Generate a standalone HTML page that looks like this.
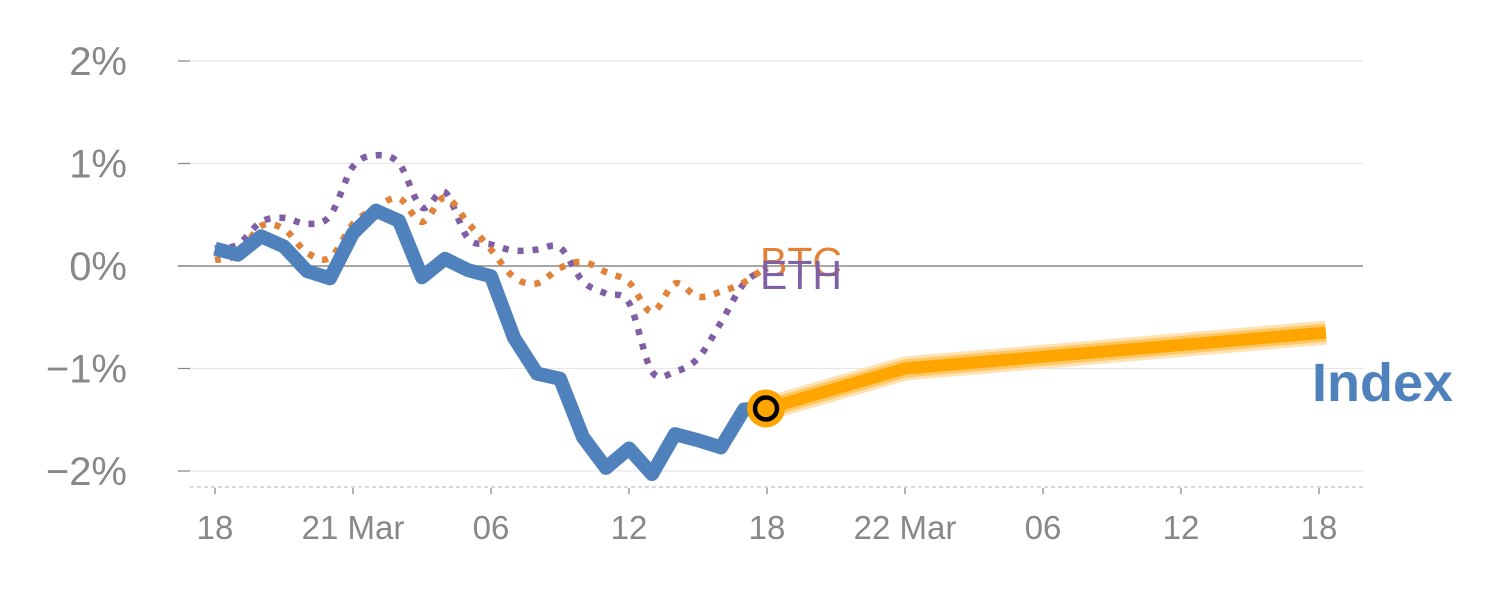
<!DOCTYPE html>
<html><head><meta charset="utf-8"><style>
html,body{margin:0;padding:0;background:#fff;}
svg{display:block;font-family:"Liberation Sans",sans-serif;}
</style></head><body>
<svg id="chart" width="1500" height="600" xmlns="http://www.w3.org/2000/svg"></svg>
<script>
const hours = [0,1,2,3,4,5,6,7,8,9,10,11,12,13,14,15,16,17,18,19,20,21,22,23,24];
const indexValues = [0.17,0.11,0.29,0.19,-0.05,-0.12,0.32,0.54,0.44,-0.11,0.07,-0.04,-0.10,-0.70,-1.05,-1.10,-1.67,-1.97,-1.78,-2.03,-1.64,-1.70,-1.77,-1.40,-1.39];
const btcValues = [0.06,0.11,0.39,0.36,0.13,0.08,0.41,0.57,0.66,0.43,0.67,0.42,0.16,-0.11,-0.17,-0.02,0.04,-0.06,-0.16,-0.45,-0.17,-0.30,-0.25,-0.16,0.00];
const ethValues = [0.17,0.21,0.43,0.47,0.41,0.49,0.97,1.08,1.00,0.57,0.72,0.27,0.21,0.15,0.16,0.18,-0.15,-0.27,-0.36,-1.03,-1.03,-0.90,-0.55,-0.17,-0.02];
const forecastHours = [24,30,48.3];
const forecastValues = [-1.39,-1.00,-0.65];
const yTicks = [2,1,0,-1,-2];
const yTickLabels = ["2%","1%","0%","\u22121%","\u22122%"];
const xTickHours = [0,6,12,18,24,30,36,42,48];
const xTickLabels = ["18","21 Mar","06","12","18","22 Mar","06","12","18"];

const NS="http://www.w3.org/2000/svg";
const svg=document.getElementById('chart');
const xS=h=>215+23*h;
const yS=v=>266-102.5*v;
function mk(tag,attrs,parent){const e=document.createElementNS(NS,tag);for(const k in attrs)e.setAttribute(k,attrs[k]);(parent||svg).appendChild(e);return e;}

yTicks.forEach((v,i)=>{
  const g=mk('line',{x1:178,x2:1363,y1:yS(v),y2:yS(v),stroke:v===0?'#888':'#e6e6e6','stroke-width':v===0?1.5:1.2});
  
  
  const tk=mk('line',{x1:178,x2:190,y1:yS(v),y2:yS(v),stroke:'#888','stroke-width':1.2});
  
  
  const t=mk('text',{x:127,y:yS(v)+14,'text-anchor':'end','font-size':40,fill:'#888'});
  t.textContent=yTickLabels[i];
  
  
});
const base=mk('line',{x1:190,x2:1365,y1:487,y2:487,stroke:'#ccc','stroke-width':1.5,'stroke-dasharray':'4 3'});


xTickHours.forEach((h,i)=>{
  const tk=mk('line',{x1:xS(h),x2:xS(h),y1:488,y2:494,stroke:'#999','stroke-width':1.5});
  
  
  const t=mk('text',{x:xS(h),y:539,'text-anchor':'middle','font-size':33,fill:'#888'});
  t.textContent=xTickLabels[i];
  
  
});

function smooth(xs,vs){
  const p=xs.map((h,i)=>[xS(h),yS(vs[i])]);
  let d=`M${p[0][0]},${p[0][1]}`;
  for(let i=0;i<p.length-1;i++){
    const p0=p[Math.max(0,i-1)],p1=p[i],p2=p[i+1],p3=p[Math.min(p.length-1,i+2)];
    const c1=[p1[0]+(p2[0]-p0[0])/6,p1[1]+(p2[1]-p0[1])/6];
    const c2=[p2[0]-(p3[0]-p1[0])/6,p2[1]-(p3[1]-p1[1])/6];
    d+=` C${c1[0]},${c1[1]} ${c2[0]},${c2[1]} ${p2[0]},${p2[1]}`;
  }
  return d;
}
function poly(xs,vs){return xs.map((h,i)=>`${i?'L':'M'}${xS(h)},${yS(vs[i])}`).join(' ');}

const eth=mk('path',{d:smooth(hours,ethValues),fill:'none',stroke:'#7f5fa6','stroke-width':6.5,'stroke-dasharray':'6 9'});


const btc=mk('path',{d:smooth(hours,btcValues),fill:'none',stroke:'#e0823a','stroke-width':6.5,'stroke-dasharray':'6 9'});



const idx=mk('path',{d:poly(hours,indexValues),fill:'none',stroke:'#4f81bd','stroke-width':14,'stroke-linejoin':'round'});



[['#fee2b4',24],['#ffc766',18],['#ffa500',12]].forEach(([c,w])=>{
  const f=mk('path',{d:poly(forecastHours,forecastValues),fill:'none',stroke:c,'stroke-width':w,'stroke-linejoin':'round'});
  
  
});
const lh=hours[hours.length-1], lv=indexValues[indexValues.length-1];
const c1=mk('circle',{cx:xS(lh)-1,cy:yS(lv),r:19,fill:'#ffa500'});


const c2=mk('circle',{cx:xS(lh)-1,cy:yS(lv),r:11,fill:'#ffa500',stroke:'#000','stroke-width':4.5});



const bl=mk('text',{x:xS(lh)-7,y:yS(btcValues[btcValues.length-1])+10,'font-size':41,fill:'#e0823a'});
bl.textContent='BTC';


const el=mk('text',{x:xS(lh)-7,y:yS(ethValues[ethValues.length-1])+21,'font-size':41,fill:'#7f5fa6'});
el.textContent='ETH';


const il=mk('text',{x:1312,y:401,'font-size':54,'font-weight':'bold',fill:'#4f81bd'});
il.textContent='Index';


</script>
</body></html>
